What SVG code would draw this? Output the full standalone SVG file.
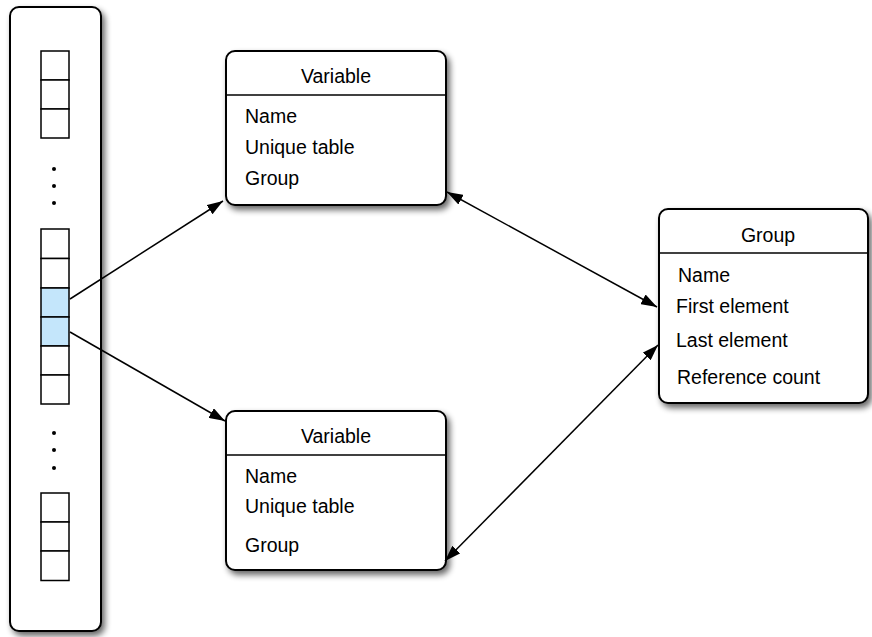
<svg xmlns="http://www.w3.org/2000/svg" width="872" height="637" viewBox="0 0 872 637">
<defs>
<filter id="sh" x="-10%" y="-10%" width="130%" height="130%">
<feGaussianBlur in="SourceAlpha" stdDeviation="3"/>
<feOffset dx="3" dy="4" result="b"/>
<feComponentTransfer><feFuncA type="linear" slope="0.6"/></feComponentTransfer>
<feMerge><feMergeNode/><feMergeNode in="SourceGraphic"/></feMerge>
</filter>
<marker id="ah" viewBox="0 0 16 11" refX="16" refY="5.5" markerWidth="16" markerHeight="11" markerUnits="userSpaceOnUse" orient="auto-start-reverse">
<path d="M0,0 L16,5.5 L0,11 Z" fill="#000"/>
</marker>
</defs>
<style>
.box{fill:#fff;stroke:#000;stroke-width:2}
.cell{fill:#fff;stroke:#000;stroke-width:1.5}
.sel{fill:#c4e6fb;stroke:#000;stroke-width:1.5}
.div{stroke:#000;stroke-width:1.5}
.t{font-family:"Liberation Sans",Arial,sans-serif;font-size:19.5px;fill:#000}
.c{text-anchor:middle}
.ln{stroke:#000;stroke-width:1.5;fill:none}
</style>
<g id="array">
<rect class="box" x="10" y="7" width="91" height="624" rx="9" filter="url(#sh)"/>
<rect class="cell" x="41" y="51" width="28" height="29"/>
<rect class="cell" x="41" y="80" width="28" height="29"/>
<rect class="cell" x="41" y="109" width="28" height="29"/>
<circle cx="54" cy="169" r="2"/>
<circle cx="54" cy="186" r="2"/>
<circle cx="54" cy="203" r="2"/>
<rect class="cell" x="41" y="229" width="28" height="29.5"/>
<rect class="cell" x="41" y="258.5" width="28" height="29.5"/>
<rect class="sel" x="41" y="288" width="28" height="29"/>
<rect class="sel" x="41" y="317" width="28" height="29"/>
<rect class="cell" x="41" y="346" width="28" height="29"/>
<rect class="cell" x="41" y="375" width="28" height="29"/>
<circle cx="54" cy="433" r="2"/>
<circle cx="54" cy="450" r="2"/>
<circle cx="54" cy="468" r="2"/>
<rect class="cell" x="41" y="493" width="28" height="29"/>
<rect class="cell" x="41" y="522" width="28" height="29"/>
<rect class="cell" x="41" y="551" width="28" height="29.5"/>
</g>
<g id="variable1">
<rect class="box" x="226" y="51" width="220" height="154" rx="9" filter="url(#sh)"/>
<line class="div" x1="226" y1="95" x2="446" y2="95"/>
<text class="t c" x="336" y="83">Variable</text>
<text class="t" x="245" y="123">Name</text>
<text class="t" x="245" y="154">Unique table</text>
<text class="t" x="245" y="185">Group</text>
</g>
<g id="variable2">
<rect class="box" x="226" y="411" width="220" height="159" rx="9" filter="url(#sh)"/>
<line class="div" x1="226" y1="455" x2="446" y2="455"/>
<text class="t c" x="336" y="443">Variable</text>
<text class="t" x="245" y="483">Name</text>
<text class="t" x="245" y="513">Unique table</text>
<text class="t" x="245" y="552">Group</text>
</g>
<g id="group">
<rect class="box" x="659" y="209" width="209" height="194" rx="9" filter="url(#sh)"/>
<line class="div" x1="659" y1="253" x2="868" y2="253"/>
<text class="t c" x="768" y="242">Group</text>
<text class="t" x="678" y="282">Name</text>
<text class="t" x="676" y="313">First element</text>
<text class="t" x="676" y="347">Last element</text>
<text class="t" x="677" y="384">Reference count</text>
</g>
<g id="connectors">
<line class="ln" x1="70" y1="299" x2="223" y2="201" marker-end="url(#ah)"/>
<line class="ln" x1="70" y1="332" x2="225" y2="421" marker-end="url(#ah)"/>
<line class="ln" x1="447" y1="192" x2="657" y2="307" marker-start="url(#ah)" marker-end="url(#ah)"/>
<line class="ln" x1="445" y1="561" x2="658" y2="345" marker-start="url(#ah)" marker-end="url(#ah)"/>
</g>
</svg>
